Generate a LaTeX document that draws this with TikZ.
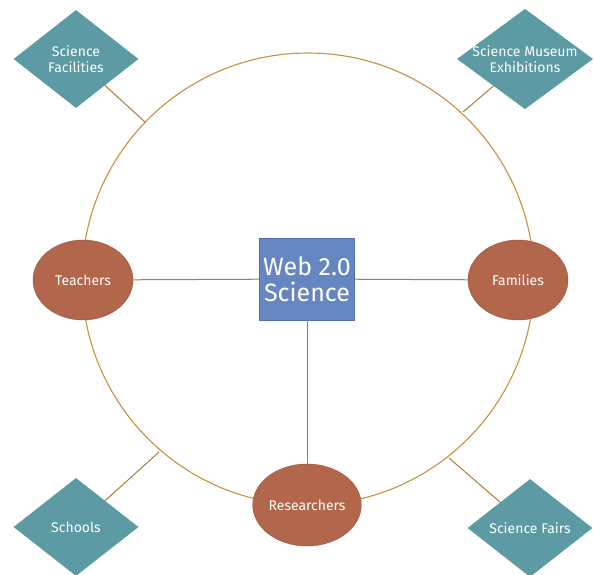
\documentclass[tikz,border=0pt]{standalone}
\usepackage{fontspec}
\setmainfont{Fira Sans}
\usetikzlibrary{shapes.geometric}

\definecolor{ringcol}{RGB}{196,146,62}
\definecolor{linkcol}{RGB}{170,124,52}
\definecolor{rustfill}{RGB}{178,102,76}
\definecolor{rustdraw}{RGB}{150,82,60}
\definecolor{tealfill}{RGB}{92,154,164}
\definecolor{bluefill}{RGB}{102,134,194}
\definecolor{bluedraw}{RGB}{84,112,170}

\tikzset{
	group/.style={ellipse,fill=rustfill,draw=rustdraw,inner sep=0pt,
		minimum width=100pt,minimum height=80pt,text=white,
		font=\fontsize{14}{16}\selectfont},
	place/.style={diamond,fill=tealfill,inner sep=-8pt,
		minimum width=125pt,minimum height=98pt,text=white,align=center,
		font=\fontsize{14}{16}\selectfont},
	hub/.style={rectangle,fill=bluefill,draw=bluedraw,minimum width=95pt,
		minimum height=82pt,text=white,align=center,inner sep=2pt,
		font=\fontsize{25}{26}\selectfont},
	link/.style={draw=linkcol,line width=1pt}
}

\begin{document}
\begin{tikzpicture}[x=1pt,y=-1pt]
	%    \draw[step=50,gray,very thin] (0,0) grid (594,574);
	\useasboundingbox (0,0) rectangle (594,574);
	
	\draw[ringcol,line width=1.1pt] (308,279) circle (226);
	
	\node[hub] (web) at (307,279) {Web 2.0\\Science};
	
	\node[group] (tea) at (83,280) {Teachers};
	\node[group] (fam) at (518,280) {Families};
	\node[group,minimum width=106pt,minimum height=82pt] (res) at (307,505) {Researchers};
	
	\node[place] (fac) at (76,59) {Science\\Facilities};
	\node[place,minimum width=136pt] (mus) at (525,59) {Science Museum\\Exhibitions};
	\node[place] (sch) at (76,527) {Schools};
	\node[place] (fai) at (530,528) {Science Fairs};
	
	\coordinate (cfac) at (145,122);
	\coordinate (cmus) at (463,112);
	\coordinate (csch) at (159,452);
	\coordinate (cfai) at (449,458);
	
	\draw[link] (tea) -- (web);
	\draw[link] (web) -- (fam);
	\draw[link] (web) -- (res);
	\draw[link] (fac) -- (cfac);
	\draw[link] (mus) -- (cmus);
	\draw[link] (sch) -- (csch);
	\draw[link] (fai) -- (cfai);
	
\end{tikzpicture}
\end{document}
